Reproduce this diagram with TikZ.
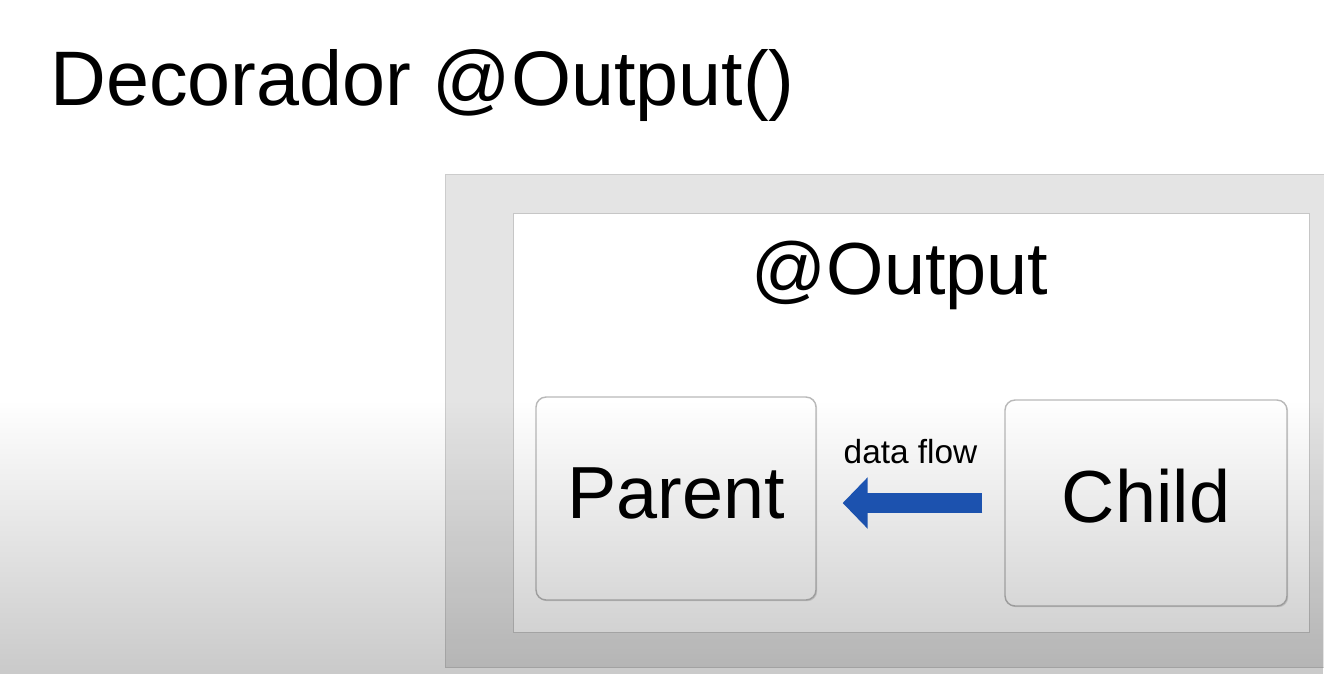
\documentclass[tikz,border=0pt]{standalone}
\usepackage{fontspec}
\setmainfont{Liberation Sans}
\usetikzlibrary{arrows.meta,positioning,shadows,fadings}

\definecolor{flowblue}{RGB}{31,90,190}
\definecolor{panelgray}{RGB}{228,228,228}
\definecolor{edgegray}{RGB}{185,185,185}
\tikzfading[name=fade down, top color=transparent!100, bottom color=transparent!79]

\tikzset{
  compbox/.style={draw=edgegray, line width=0.8pt, fill=white, rounded corners=0.2cm,
    minimum width=5.6cm, minimum height=4.06cm, font=\fontsize{42}{48}\selectfont,
    text height=30pt, text depth=7.5pt,
    drop shadow={shadow xshift=0.7pt, shadow yshift=-0.7pt, opacity=0.25}},
  flow/.style={color=flowblue, line width=0.4cm, -{Triangle[length=0.5cm,width=1cm]}},
}

\begin{document}
\begin{tikzpicture}[x=0.02cm, y=-0.02cm]
  \clip (0,0) rectangle (1324,674);
  \fill[white] (0,0) rectangle (1324,674);
  % title
  \node[anchor=base west, inner sep=0, font=\fontsize{44}{50}\selectfont] (title) at (50,105) {Decorador @Output()};
  % panels
  \draw[fill=panelgray, draw=gray!40] (445,174) rectangle (1340,667);
  \draw[fill=white, draw=gray!45, drop shadow={shadow xshift=0.8pt, shadow yshift=-0.8pt, opacity=0.3}] (513,213) rectangle (1309,632);
  \node[anchor=base, inner sep=0, font=\fontsize{42}{48}\selectfont] (heading) at (900,294) {@Output};
  % components
  \node[compbox] (parent) at (676,498.5) {Parent};
  \node[compbox, minimum width=5.64cm, minimum height=4.12cm] (child) at (1146,503) {Child};
  \draw[flow, shorten <=0.44cm, shorten >=0.52cm] (child.west) -- (child.west -| parent.east)
    node[midway, above=0.58cm, inner sep=0, text=black, font=\fontsize{19}{22}\selectfont] (flowlabel) {data flow};
  % shading toward the bottom
  \fill[black, path fading=fade down] (0,400) rectangle (1324,674);
\end{tikzpicture}
\end{document}
